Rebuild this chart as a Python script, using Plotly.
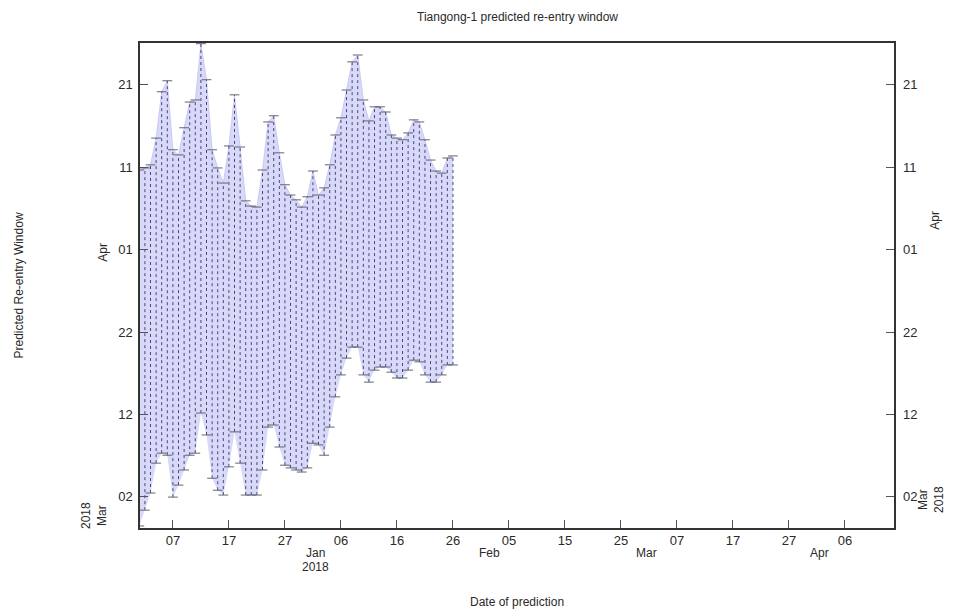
import plotly.graph_objects as go

# Date of each prediction (daily)
pred_dates = [
    "2017-12-01", "2017-12-02", "2017-12-03", "2017-12-04", "2017-12-05", "2017-12-06",
    "2017-12-07", "2017-12-08", "2017-12-09", "2017-12-10", "2017-12-11", "2017-12-12",
    "2017-12-13", "2017-12-14", "2017-12-15", "2017-12-16", "2017-12-17", "2017-12-18",
    "2017-12-19", "2017-12-20", "2017-12-21", "2017-12-22", "2017-12-23", "2017-12-24",
    "2017-12-25", "2017-12-26", "2017-12-27", "2017-12-28", "2017-12-29", "2017-12-30",
    "2017-12-31", "2018-01-01", "2018-01-02", "2018-01-03", "2018-01-04", "2018-01-05",
    "2018-01-06", "2018-01-07", "2018-01-08", "2018-01-09", "2018-01-10", "2018-01-11",
    "2018-01-12", "2018-01-13", "2018-01-14", "2018-01-15", "2018-01-16", "2018-01-17",
    "2018-01-18", "2018-01-19", "2018-01-20", "2018-01-21", "2018-01-22", "2018-01-23",
    "2018-01-24", "2018-01-25", "2018-01-26",
]

# Latest predicted re-entry (upper end of window)
window_upper = [
    "2018-04-10 16:00", "2018-04-10 22:00", "2018-04-11 07:00", "2018-04-14 13:00",
    "2018-04-20 04:00", "2018-04-21 12:00", "2018-04-13 03:00", "2018-04-12 12:00",
    "2018-04-15 19:00", "2018-04-18 22:00", "2018-04-19 04:00", "2018-04-26 00:00",
    "2018-04-21 15:00", "2018-04-13 03:00", "2018-04-10 22:00", "2018-04-09 02:00",
    "2018-04-13 14:00", "2018-04-19 19:00", "2018-04-13 11:00", "2018-04-06 22:00",
    "2018-04-06 07:00", "2018-04-06 04:00", "2018-04-10 16:00", "2018-04-16 12:00",
    "2018-04-17 06:00", "2018-04-12 18:00", "2018-04-08 21:00", "2018-04-07 15:00",
    "2018-04-07 01:00", "2018-04-06 04:00", "2018-04-07 10:00", "2018-04-10 13:00",
    "2018-04-07 15:00", "2018-04-08 12:00", "2018-04-11 07:00", "2018-04-14 22:00",
    "2018-04-17 00:00", "2018-04-20 09:00", "2018-04-23 19:00", "2018-04-24 15:00",
    "2018-04-19 04:00", "2018-04-16 15:00", "2018-04-18 08:00", "2018-04-18 08:00",
    "2018-04-17 17:00", "2018-04-14 22:00", "2018-04-14 13:00", "2018-04-14 08:00",
    "2018-04-15 04:00", "2018-04-16 18:00", "2018-04-16 12:00", "2018-04-14 08:00",
    "2018-04-11 21:00", "2018-04-10 13:00", "2018-04-10 07:00", "2018-04-12 03:00",
    "2018-04-12 09:00",
]

# Earliest predicted re-entry (lower end of window)
window_lower = [
    "2018-02-26 11:00", "2018-02-28 09:00", "2018-03-02 11:00", "2018-03-06 02:00",
    "2018-03-07 07:00", "2018-03-07 01:00", "2018-03-01 23:00", "2018-03-03 10:00",
    "2018-03-05 06:00", "2018-03-07 01:00", "2018-03-07 07:00", "2018-03-12 04:00",
    "2018-03-09 12:00", "2018-03-04 06:00", "2018-03-02 19:00", "2018-03-02 05:00",
    "2018-03-05 15:00", "2018-03-09 21:00", "2018-03-06 02:00", "2018-03-02 05:00",
    "2018-03-02 05:00", "2018-03-02 05:00", "2018-03-05 06:00", "2018-03-10 11:00",
    "2018-03-10 17:00", "2018-03-08 01:00", "2018-03-05 20:00", "2018-03-05 12:00",
    "2018-03-05 06:00", "2018-03-05 00:00", "2018-03-05 12:00", "2018-03-08 12:00",
    "2018-03-08 07:00", "2018-03-07 01:00", "2018-03-10 11:00", "2018-03-14 03:00",
    "2018-03-16 19:00", "2018-03-18 20:00", "2018-03-20 04:00", "2018-03-20 04:00",
    "2018-03-16 19:00", "2018-03-15 22:00", "2018-03-17 09:00", "2018-03-17 18:00",
    "2018-03-17 18:00", "2018-03-17 03:00", "2018-03-16 10:00", "2018-03-16 10:00",
    "2018-03-17 09:00", "2018-03-18 14:00", "2018-03-18 09:00", "2018-03-16 19:00",
    "2018-03-15 22:00", "2018-03-15 22:00", "2018-03-16 19:00", "2018-03-18 00:00",
    "2018-03-18 00:00",
]

x_tick_vals = ["2017-12-07", "2017-12-17", "2017-12-27", "2018-01-06", "2018-01-16",
               "2018-01-26", "2018-02-05", "2018-02-15", "2018-02-25", "2018-03-07",
               "2018-03-17", "2018-03-27", "2018-04-06"]
x_tick_text = ["07", "17", "27", "06", "16", "26", "05", "15", "25", "07", "17", "27", "06"]
x_month_pos = ["2017-12-01", "2018-01-01", "2018-02-01", "2018-03-01", "2018-04-01"]
x_month_text = ["Dec", "Jan", "Feb", "Mar", "Apr"]

y_tick_vals = ["2018-03-02", "2018-03-12", "2018-03-22", "2018-04-01", "2018-04-11", "2018-04-21"]
y_tick_text = ["02", "12", "22", "01", "11", "21"]

FONT = "Liberation Sans, Arial, sans-serif"
TXT = "#2a2a2a"
BAR = "rgb(70,70,125)"

fig = go.Figure()

# shaded window
fig.add_trace(go.Scatter(x=pred_dates, y=window_lower, mode="lines",
                         line=dict(width=0, color="rgba(0,0,0,0)"),
                         showlegend=False, hoverinfo="skip"))
fig.add_trace(go.Scatter(x=pred_dates, y=window_upper, mode="lines", fill="tonexty",
                         fillcolor="rgb(216,216,249)",
                         line=dict(width=0.8, color="rgb(195,195,240)"),
                         showlegend=False, hoverinfo="skip"))

# dotted vertical window lines
seg_x, seg_y = [], []
for d, lo, hi in zip(pred_dates, window_lower, window_upper):
    seg_x += [d, d, None]
    seg_y += [lo, hi, None]
fig.add_trace(go.Scatter(x=seg_x, y=seg_y, mode="lines",
                         line=dict(width=1, color=BAR, dash="dot"),
                         showlegend=False, hoverinfo="skip"))

# caps
fig.add_trace(go.Scatter(x=pred_dates + pred_dates, y=window_lower + window_upper,
                         mode="markers",
                         marker=dict(symbol="line-ew", size=7,
                                     line=dict(width=1, color="rgb(100,100,112)")),
                         showlegend=False, hoverinfo="skip"))

# invisible trace on right axis
fig.add_trace(go.Scatter(x=[pred_dates[0]], y=[window_lower[10]], yaxis="y2",
                         mode="markers", marker=dict(opacity=0), showlegend=False,
                         hoverinfo="skip"))

x_range = ["2017-12-01 03:00", "2018-04-14 18:00"]
y_range = ["2018-02-26 05:00", "2018-04-26 02:00"]

fig.update_layout(
    width=957, height=611,
    margin=dict(l=140, r=63, t=43, b=83),
    paper_bgcolor="white", plot_bgcolor="white",
    font=dict(family=FONT, color=TXT, size=13),
    xaxis=dict(type="date", range=x_range, tickvals=x_tick_vals, ticktext=x_tick_text,
               ticks="inside", ticklen=8, tickcolor="#555", tickwidth=1,
               showline=True, linecolor="#333", linewidth=1.5, mirror=True,
               showgrid=False, zeroline=False, tickfont=dict(size=13)),
    yaxis=dict(type="date", range=y_range, tickvals=y_tick_vals, ticktext=y_tick_text,
               ticks="inside", ticklen=8, tickcolor="#555", tickwidth=1,
               showline=True, linecolor="#333", linewidth=1.5, mirror=True,
               showgrid=False, zeroline=False, tickfont=dict(size=13),
               ticklabelstandoff=3),
    yaxis2=dict(type="date", range=y_range, tickvals=y_tick_vals, ticktext=y_tick_text,
                overlaying="y", side="right", ticks="inside", ticklen=8,
                tickcolor="#555", tickwidth=1, showline=False, showgrid=False,
                zeroline=False, tickfont=dict(size=13), ticklabelstandoff=8),
)

ann = []
for pos, txt in zip(x_month_pos, x_month_text):
    ann.append(dict(x=pos, y=0, xref="x", yref="paper", text=txt, showarrow=False,
                    yanchor="middle", xanchor="center", yshift=-25, xshift=3,
                    font=dict(size=12)))
ann.append(dict(x="2018-01-01", y=0, xref="x", yref="paper", text="2018",
                showarrow=False, yanchor="middle", xanchor="center", yshift=-39,
                xshift=3, font=dict(size=12)))
# y month labels and titles
common = dict(showarrow=False, xanchor="center", yanchor="middle")
ann += [
    dict(x=0, y="2018-04-01", xref="paper", yref="y", text="Apr", textangle=-90,
         xshift=-37, yshift=-3, font=dict(size=12), **common),
    dict(x=0, y="2018-03-01", xref="paper", yref="y", text="2018<br>Mar", textangle=-90,
         xshift=-46, yshift=-11, font=dict(size=12), **common),
    dict(x=1, y="2018-04-01", xref="paper", yref="y", text="Apr", textangle=-90,
         xshift=41, yshift=29, font=dict(size=12), **common),
    dict(x=1, y="2018-03-01", xref="paper", yref="y", text="Mar<br>2018", textangle=-90,
         xshift=37, yshift=5, font=dict(size=12), **common),
    dict(x=0, y=0.5, xref="paper", yref="paper", text="Predicted Re-entry Window",
         textangle=-90, xshift=-122, font=dict(size=12), **common),
    dict(x=0.5, y=0, xref="paper", yref="paper", text="Date of prediction",
         yshift=-74, font=dict(size=12), **common),
    dict(x=0.5, y=1, xref="paper", yref="paper", text="Tiangong-1 predicted re-entry window",
         yshift=26, font=dict(size=12), **common),
]
fig.update_layout(annotations=ann)

fig.write_html("out.html",
               config={"displayModeBar": False},
               post_script="document.body.style.margin='0';"
                           "document.body.style.overflow='hidden';")
